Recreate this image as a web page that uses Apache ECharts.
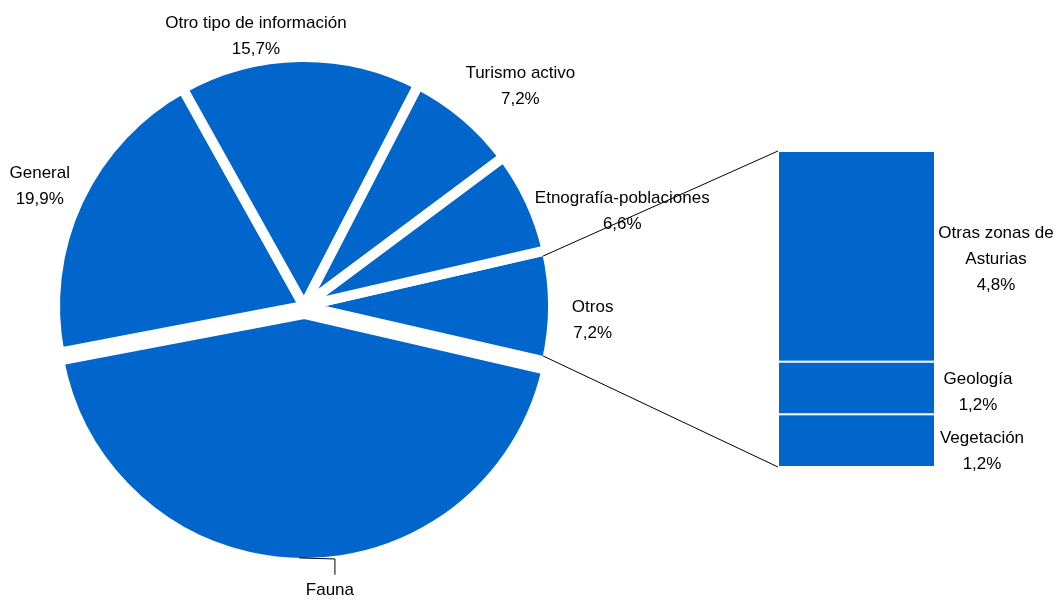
<!DOCTYPE html>
<html><head><meta charset="utf-8">
<script src="https://cdn.jsdelivr.net/npm/echarts@6/dist/echarts.min.js"></script>
<style>html,body{margin:0;padding:0;background:#fff}#c{width:1061px;height:601px}</style>
</head><body><div id="c"></div>
<script>
// ---- data ----
const otrosName = 'Otros';
const mainNames = ['Fauna', 'General', 'Otro tipo de información', 'Turismo activo', 'Etnografía-poblaciones'];
const mainValues = [43.4, 19.9, 15.7, 7.2, 6.6];
const barNames = ['Vegetación', 'Geología', 'Otras zonas de\nAsturias'];
const barValues = [1.2, 1.2, 4.8];
const hidePctFor = ['Fauna'];
const explodedName = 'Fauna';

// ---- layout / style ----
const FONT = '"Liberation Sans Narrow","Arial Narrow","Liberation Sans",Arial,sans-serif';
const FS = 17, LH = 26;
const BLUE = '#0066CC';
const CX = 304, CY = 306, R = 249, BORDER = 10, EXPLODE = 8;
const GRID = {left: 778, top: 151, width: 157, height: 316};
// label placement relative to slice middle angle: angle delta (deg), radius (px), measured from pie centre
const labelPlace = {
  'Otros': {da: -2.8, r: 289},
  'Fauna': {da: 6.3, r: 285},
  'General': {da: 0.7, r: 290},
  'Otro tipo de información': {da: 9.2, r: 274},
  'Turismo activo': {da: -4.3, r: 308},
  'Etnografía-poblaciones': {da: -8.3, r: 332}
};
const barLabelOffset = [[47, 11], [43, 4], [61, 3]];

const fmtPct = v => v.toFixed(1).replace('.', ',') + '%';
const otrosValue = +barValues.reduce((a, b) => a + b, 0).toFixed(1);
const pieNames = [otrosName].concat(mainNames);
const pieValues = [otrosValue].concat(mainValues);
const total = pieValues.reduce((a, v) => a + v, 0);
const startAngle = otrosValue / total * 180;
let acc = startAngle;
const mids = pieValues.map(v => { const span = v / total * 360; const m = acc - span / 2; acc -= span; return m; });
const rad = a => a * Math.PI / 180;
const fi = pieNames.indexOf(explodedName);
const fm = rad(mids[fi]);
const explodedCenter = [CX + EXPLODE * Math.cos(fm), CY - EXPLODE * Math.sin(fm)];

const chart = echarts.init(document.getElementById('c'));
const textStyle = {fontFamily: FONT, fontSize: FS, lineHeight: LH, color: '#000'};

function makePie(center, visible) {
  return {
    type: 'pie', center: center, radius: R, startAngle: startAngle, clockwise: true,
    avoidLabelOverlap: false, silent: true,
    itemStyle: {color: BLUE, borderColor: '#fff', borderWidth: BORDER, borderJoin: 'round'},
    label: Object.assign({show: true, position: 'outside',
      formatter: p => hidePctFor.includes(p.name) ? p.name : p.name + '\n' + fmtPct(p.value)}, textStyle),
    labelLine: {show: false},
    labelLayout: p => {
      const pl = labelPlace[pieNames[p.dataIndex]];
      const a = rad(mids[p.dataIndex] + pl.da);
      return {x: CX + pl.r * Math.cos(a), y: CY - pl.r * Math.sin(a), align: 'center', verticalAlign: 'middle'};
    },
    emphasis: {disabled: true},
    data: pieNames.map((n, i) => visible(n)
      ? {name: n, value: pieValues[i]}
      : {name: n, value: pieValues[i], itemStyle: {opacity: 0}, label: {show: false}})
  };
}

chart.setOption({
  animation: false,
  grid: Object.assign({}, GRID),
  xAxis: {type: 'category', data: [otrosName], show: false},
  yAxis: {type: 'value', min: 0, max: otrosValue, show: false},
  series: [
    makePie([CX, CY], n => n !== explodedName),
    makePie(explodedCenter, n => n === explodedName)
  ].concat(barNames.map((n, i) => ({
    type: 'bar', name: n, stack: 'otros', barWidth: '100%',
    data: [barValues[i]],
    itemStyle: {color: BLUE, borderColor: '#fff', borderWidth: 1},
    emphasis: {disabled: true},
    label: Object.assign({show: true, position: 'right', distance: 0, align: 'center',
      offset: barLabelOffset[i], formatter: p => p.seriesName + '\n' + fmtPct(p.value)}, textStyle)
  })))
});

// connector lines and Fauna leader, computed from the scales / pie geometry
const yTop = chart.convertToPixel({yAxisIndex: 0}, otrosValue);
const yBot = chart.convertToPixel({yAxisIndex: 0}, 0);
const xLeft = chart.convertToPixel({xAxisIndex: 0}, otrosName) - GRID.width / 2;
const Rvis = R - BORDER / 2;
const inset = Math.asin((BORDER / 2) / Rvis) * 180 / Math.PI;
const upA = rad(startAngle - inset), loA = rad(-startAngle + inset);
const up = [CX + Rvis * Math.cos(upA), CY - Rvis * Math.sin(upA)];
const lo = [CX + Rvis * Math.cos(loA), CY - Rvis * Math.sin(loA)];
const fStart = [explodedCenter[0] + Rvis * Math.cos(fm), explodedCenter[1] - Rvis * Math.sin(fm)];
const flA = rad(mids[fi] + labelPlace[explodedName].da);
const fLab = [CX + labelPlace[explodedName].r * Math.cos(flA), CY - labelPlace[explodedName].r * Math.sin(flA)];
const lineStyle = {stroke: '#000', lineWidth: 1};
chart.setOption({
  graphic: [
    {type: 'line', z: 100, shape: {x1: up[0], y1: up[1], x2: xLeft, y2: yTop}, style: lineStyle, silent: true},
    {type: 'line', z: 100, shape: {x1: lo[0], y1: lo[1], x2: xLeft, y2: yBot}, style: lineStyle, silent: true},
    {type: 'polyline', z: 100, shape: {points: [fStart, [fLab[0] + 5, fStart[1] + 1], [fLab[0] + 5, fLab[1] - 15]]},
      style: {stroke: '#000', lineWidth: 1, fill: null}, silent: true}
  ]
});
</script></body></html>
